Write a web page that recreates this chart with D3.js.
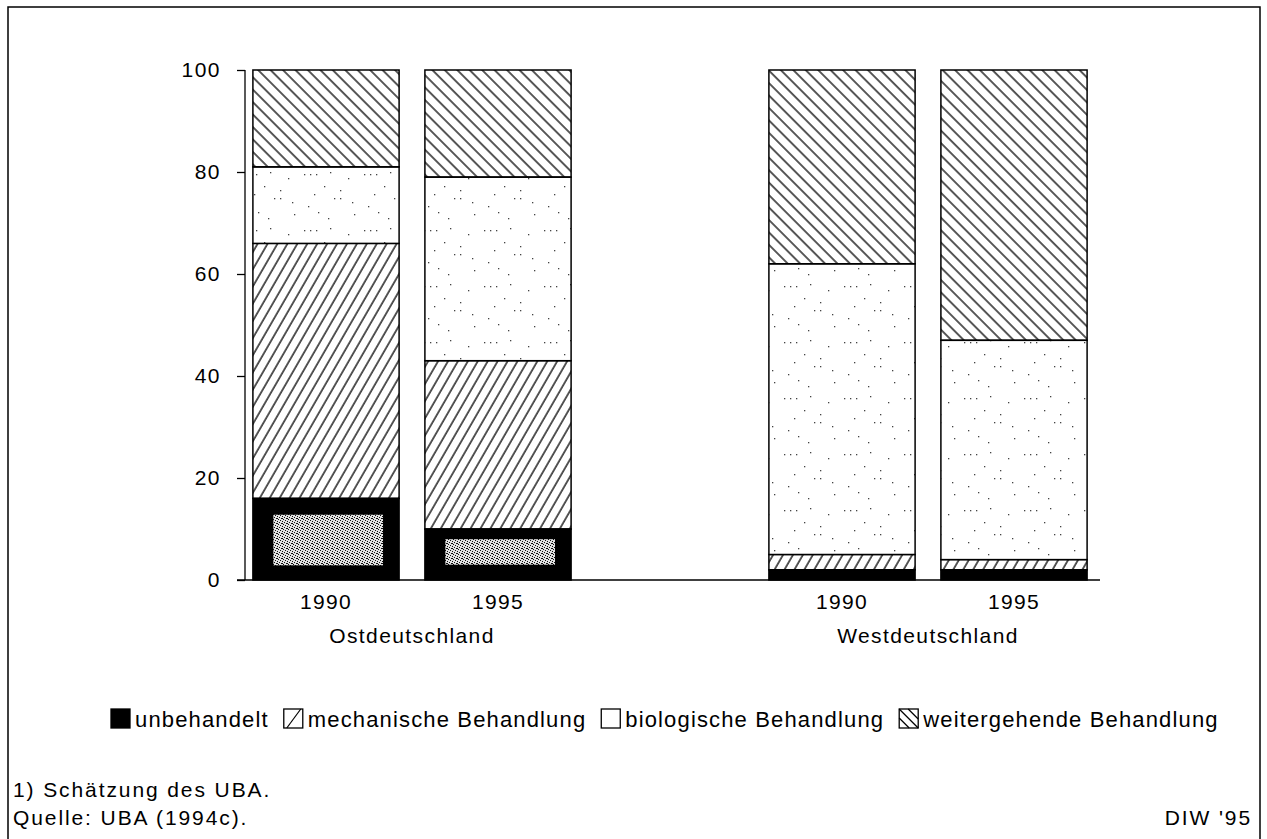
<!DOCTYPE html>
<html><head><meta charset="utf-8">
<script src="https://cdn.jsdelivr.net/npm/d3@7"></script>
<style>body{margin:0;background:#fff;} svg{display:block;} text{font-family:"Liberation Sans",Arial,sans-serif;fill:#000;}</style>
</head><body>
<svg id="c" width="1267" height="839"></svg>
<script>
const bars = ["O1990","O1995","gap","W1990","W1995"];
const barYears = ["1990","1995","","1990","1995"];
const regions = ["Ostdeutschland","Westdeutschland"];
const seriesNames = ["unbehandelt","mechanische Behandlung","biologische Behandlung","weitergehende Behandlung"];
const unbehandelt = [16,10,null,2,2];
const mechanisch = [50,33,null,3,2];
const biologisch = [15,36,null,57,43];
const weitergehend = [19,21,null,38,53];
const yTicks = [0,20,40,60,80,100];

const svg = d3.select("#c");
const defs = svg.append("defs");
// patterns
const pm = defs.append("pattern").attr("id","pMech").attr("patternUnits","userSpaceOnUse")
  .attr("width",8.6).attr("height",12).attr("patternTransform","rotate(30)");
pm.append("line").attr("x1",1).attr("y1",0).attr("x2",1).attr("y2",12).attr("stroke","#000").attr("stroke-width",1.3);
const pw = defs.append("pattern").attr("id","pWeit").attr("patternUnits","userSpaceOnUse")
  .attr("width",8.8).attr("height",12).attr("patternTransform","rotate(-45)");
pw.append("line").attr("x1",1).attr("y1",0).attr("x2",1).attr("y2",12).attr("stroke","#000").attr("stroke-width",1.3);
const pb = defs.append("pattern").attr("id","pBio").attr("patternUnits","userSpaceOnUse").attr("width",60).attr("height",56);
pb.append("rect").attr("width",60).attr("height",56).attr("fill","#fff");
[[4,6],[10,6],[16,6],[24,18],[34,30],[40,30],[8,38],[18,44],[48,10],[30,4],[54,46],[14,26],[40,22],[28,50],[52,34]].forEach(p=>
  pb.append("rect").attr("x",p[0]).attr("y",p[1]).attr("width",1.3).attr("height",1.3).attr("fill","#444"));
const pn = defs.append("pattern").attr("id","pNoise").attr("patternUnits","userSpaceOnUse").attr("width",5).attr("height",5);
pn.append("rect").attr("width",5).attr("height",5).attr("fill","#e2e2e2");
[[0,0],[2,1],[4,2],[1,3],[3,4],[2,3]].forEach(p=>pn.append("rect").attr("x",p[0]).attr("y",p[1]).attr("width",1).attr("height",1).attr("fill","#111"));

// frame
svg.append("rect").attr("x",8).attr("y",7).attr("width",1252).attr("height",850)
  .attr("fill","none").attr("stroke","#000").attr("stroke-width",1.5);

const x = d3.scaleBand().domain(bars).range([240,1100]).paddingInner(0.15).paddingOuter(0.075);
const y = d3.scaleLinear().domain([0,100]).range([580,70]);

// y axis
const yAxis = svg.append("g").attr("transform","translate(245,0)")
  .call(d3.axisLeft(y).tickValues(yTicks).tickSize(8).tickPadding(16));
yAxis.select(".domain").attr("stroke","#000").attr("stroke-width",1.3).attr("d","M0,70V580");
yAxis.selectAll(".tick line").attr("stroke","#000").attr("stroke-width",1.3);
yAxis.selectAll(".tick text").attr("font-size",21).attr("letter-spacing",1.5)
  .style("font-family","Liberation Sans, Arial, sans-serif");

// baseline
svg.append("line").attr("x1",237).attr("x2",1100).attr("y1",y(0)).attr("y2",y(0)).attr("stroke","#000").attr("stroke-width",1.3);

const series = [
  {vals:unbehandelt, fill:"#000"},
  {vals:mechanisch, fill:"url(#pMech)"},
  {vals:biologisch, fill:"url(#pBio)"},
  {vals:weitergehend, fill:"url(#pWeit)"}
];
bars.forEach((b,i)=>{
  if (unbehandelt[i]==null) return;
  let cum = 0;
  series.forEach((s,k)=>{
    const v = s.vals[i];
    svg.append("rect").attr("x",x(b)).attr("width",x.bandwidth())
      .attr("y",y(cum+v)).attr("height",y(cum)-y(cum+v))
      .attr("fill",s.fill).attr("stroke","#000").attr("stroke-width",1.5);
    if (k===0 && v>=8) {
      const top = y(v), h = y(0)-y(v);
      svg.append("rect").attr("x",x(b)+x.bandwidth()*0.14).attr("width",x.bandwidth()*0.75)
        .attr("y",top+h*0.2).attr("height",h*0.62 - (v<12?h*0.12:0)).attr("fill","url(#pNoise)");
    }
    cum += v;
  });
});

// year labels
bars.forEach((b,i)=>{
  if(!barYears[i]) return;
  svg.append("text").attr("x",x(b)+x.bandwidth()/2).attr("y",609).attr("text-anchor","middle")
    .attr("font-size",21).attr("letter-spacing",1.3).text(barYears[i]);
});
svg.append("text").attr("x",(x("O1990")+x("O1995")+x.bandwidth())/2).attr("y",643).attr("text-anchor","middle")
  .attr("font-size",21).attr("letter-spacing",1.4).text(regions[0]);
svg.append("text").attr("x",(x("W1990")+x("W1995")+x.bandwidth())/2).attr("y",643).attr("text-anchor","middle")
  .attr("font-size",21).attr("letter-spacing",1.4).text(regions[1]);

// legend
const lg = svg.append("g");
let lx = 111; const bs = 19, ly = 709;
seriesNames.forEach((n,k)=>{
  const g = lg.append("g");
  g.append("rect").attr("x",lx).attr("y",ly).attr("width",bs).attr("height",bs)
    .attr("fill",k===0?"#000":"#fff").attr("stroke","#000").attr("stroke-width",1.3);
  if(k===1) g.append("line").attr("x1",lx+3).attr("y1",ly+bs).attr("x2",lx+bs-2).attr("y2",ly).attr("stroke","#000").attr("stroke-width",1.2);
  if(k===3){
    g.append("line").attr("x1",lx).attr("y1",ly).attr("x2",lx+bs).attr("y2",ly+bs).attr("stroke","#000").attr("stroke-width",1.2);
    g.append("line").attr("x1",lx).attr("y1",ly+9).attr("x2",lx+10).attr("y2",ly+bs).attr("stroke","#000").attr("stroke-width",1.2);
    g.append("line").attr("x1",lx+9).attr("y1",ly).attr("x2",lx+bs).attr("y2",ly+10).attr("stroke","#000").attr("stroke-width",1.2);
  }
  const t = g.append("text").attr("x",lx+bs+5).attr("y",ly+bs-1).attr("font-size",22).attr("letter-spacing",1.15).text(n);
  lx += bs + 5 + t.node().getComputedTextLength() + 15;
});

// footer
svg.append("text").attr("x",13).attr("y",797).attr("font-size",21).attr("letter-spacing",1.9).text("1) Schätzung des UBA.");
svg.append("text").attr("x",13).attr("y",825).attr("font-size",21).attr("letter-spacing",1.9).text("Quelle: UBA (1994c).");
svg.append("text").attr("x",1252).attr("y",825).attr("text-anchor","end").attr("font-size",21).attr("letter-spacing",1.9).text("DIW '95");
</script>
</body></html>
